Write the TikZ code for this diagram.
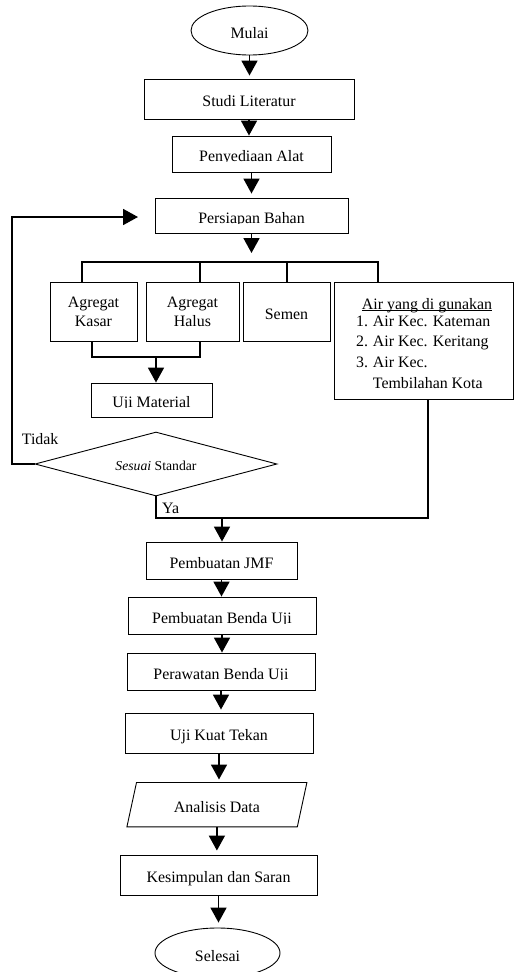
\documentclass[tikz,border=0pt]{standalone}
\usepackage{fontspec}
\setmainfont{Liberation Serif}
\usetikzlibrary{arrows.meta,shapes.geometric,calc}
\newcommand\fs{\fontsize{15.9}{19}\selectfont}
\newcommand\fsm{\fontsize{13.7}{16}\selectfont}
\newcommand\ulinetext[1]{\setbox0\hbox{#1}\rlap{\rule[-2.2pt]{\wd0}{0.8pt}}\box0}
\begin{document}
\begin{tikzpicture}[x=1pt,y=-1pt,
  frame/.style={draw, line width=0.9pt, inner sep=0pt, font=\fs},
  box/.style={frame, rectangle, text height=15pt, text depth=0pt},
  two/.style={frame, rectangle, align=center},
  term/.style={frame, ellipse, text height=15pt, text depth=0pt},
  txt/.style={inner sep=0pt, font=\fs, text height=15pt, text depth=0pt},
  btxt/.style={inner sep=0pt, font=\fs, anchor=base west},
  conn/.style={line width=1.8pt},
  arr/.style={conn, -{Triangle[width=16pt,length=15pt]}}
]
\useasboundingbox[fill=white] (0,0) rectangle (514,972);

% nodes
\node[term, minimum width=117pt, minimum height=49pt] (mulai) at (249.5,30.5) {Mulai};
\node[box, minimum width=210pt, minimum height=40pt] (studi) at (249,99) {Studi Literatur};
\node[box, minimum width=159pt, minimum height=36pt] (peny) at (251.5,154) {};
\node[box, minimum width=193pt, minimum height=35pt] (pers) at (251.5,215.5) {};
\node[two, minimum width=87pt, minimum height=59pt] (kasar) at (93.5,311.5) {Agregat\\Kasar};
\node[two, minimum width=93pt, minimum height=59pt] (halus) at (192.5,311.5) {Agregat\\Halus};
\node[box, minimum width=87pt, minimum height=59pt] (semen) at (286.5,311.5) {Semen};
\node[frame, rectangle, minimum width=179pt, minimum height=117pt] (air) at (423.5,340.5) {};
\node[box, minimum width=121pt, minimum height=34pt] (uji) at (151.5,400) {};
\node[frame, diamond, shape aspect=3.78, minimum width=242pt, minimum height=64pt,
      font=\fsm, text height=13.4pt, text depth=0pt] (dia) at (156,464) {\textit{Sesuai} Standar};
\node[box, minimum width=151pt, minimum height=37pt] (jmf) at (221.5,560.5) {Pembuatan JMF};
\node[box, minimum width=188pt, minimum height=37pt] (benda) at (222,615.5) {};
\node[box, minimum width=188pt, minimum height=37pt] (rawat) at (221,671.5) {};
\node[box, minimum width=188pt, minimum height=40pt] (kuat) at (219,733) {Uji Kuat Tekan};
\node[txt, minimum width=170pt, minimum height=44pt] (ana) at (216.9,804.7) {Analisis Data};
\draw[line width=0.9pt] ($(ana.north west)+(4.8,0)$) -- ($(ana.north east)+(4.8,0)$)
  -- ($(ana.south east)+(-4.8,0)$) -- ($(ana.south west)+(-4.8,0)$) -- cycle;
\node[box, minimum width=197pt, minimum height=40pt] (kes) at (218.5,875) {Kesimpulan dan Saran};
\node[frame, ellipse, minimum width=125pt, minimum height=50pt] (sel) at (217.5,953) {};

% labels clipped at the baseline, as in the reference
\begin{scope}
\clip (peny.north west) rectangle ([yshift=-7.5pt]peny.east);
\node[txt] (penyt) at (peny.center) {Penyediaan Alat};
\end{scope}
\begin{scope}
\clip (pers.north west) rectangle ([yshift=-7.5pt]pers.east);
\node[txt] (perst) at (pers.center) {Persiapan Bahan};
\end{scope}
\begin{scope}
\clip (uji.north west) rectangle ([yshift=-7.5pt]uji.east);
\node[txt] (ujit) at (uji.center) {Uji Material};
\end{scope}
\begin{scope}
\clip (benda.north west) rectangle ([yshift=-7.5pt]benda.east);
\node[txt] (bendat) at (benda.center) {Pembuatan Benda Uji};
\end{scope}
\begin{scope}
\clip (rawat.north west) rectangle ([yshift=-7.5pt]rawat.east);
\node[txt] (rawatt) at (rawat.center) {Perawatan Benda Uji};
\end{scope}
\begin{scope}
\clip (sel.north west) rectangle ([yshift=-8.5pt]sel.east);
\node[txt, text height=17pt] (selt) at (sel.center) {Selesai};
\end{scope}

% water box text
\node[btxt] (airh) at (361.7,309) {\ulinetext{Air yang di gunakan}};
\node[btxt] (n1) at (356,326) {1.};
\node[btxt] (l1) at (372.7,326) {Air Kec. Kateman};
\node[btxt] (n2) at (356,346.7) {2.};
\node[btxt] (l2) at (372.7,346.7) {Air Kec. Keritang};
\node[btxt] (n3) at (356,367.3) {3.};
\node[btxt] (l3) at (372.7,367.3) {Air Kec.};
\node[btxt] (l4) at (372.7,388.3) {Tembilahan Kota};

\node[btxt] (tidak) at (21.7,444) {Tidak};
\node[btxt] (ya) at (162,513.3) {Ya};

% connectors
\draw[arr, shorten >=3pt] (mulai.south) -- (mulai.south |- studi.north);
\draw[arr] (studi.south) -- (studi.south |- peny.north);
\draw[arr, shorten >=4pt] (peny.south) -- (peny.south |- pers.north);
\coordinate (bt) at (251.5,253);
\draw[arr] (pers.south) -- (bt);

\coordinate (b1) at (82,262);
\coordinate (b2) at (200,262);
\coordinate (b3) at (287,262);
\coordinate (b4) at (378,262);
\draw[conn] (b1 |- kasar.north) -- (b1) -- (b4) -- (b4 |- air.north);
\draw[conn] (b2) -- (b2 |- halus.north);
\draw[conn] (b3) -- (b3 |- semen.north);

\coordinate (j1) at (92,357);
\coordinate (j2) at (200,357);
\coordinate (jm) at (156,357);
\draw[conn] (j1 |- kasar.south) -- (j1) -- (j2) -- (j2 |- halus.south);
\draw[arr] (jm) -- (jm |- uji.north);

\coordinate (lx) at (12,217);
\coordinate (lt) at (138,217);
\draw[arr] (dia.west) -- (dia.west -| lx) -- (lx) -- (lt);

\coordinate (yr) at (428,518);
\coordinate (ym) at (222,518);
\draw[conn] (dia.south) -- (dia.south |- yr) -- (yr) -- (yr |- air.south);
\draw[arr] (ym) -- (ym |- jmf.north);

\draw[arr] (jmf.south) -- (jmf.south |- benda.north);
\draw[arr] (benda.south) -- (benda.south |- rawat.north);
\draw[arr, shorten >=3pt] (rawat.south) -- (rawat.south |- kuat.north);
\draw[arr, shorten >=3pt] (kuat.south) -- (kuat.south |- ana.north);
\draw[arr, shorten >=4pt] (ana.south) -- (ana.south |- kes.north);
\draw[arr, shorten >=5pt] (kes.south) -- (kes.south |- sel.north);
\end{tikzpicture}
\end{document}
